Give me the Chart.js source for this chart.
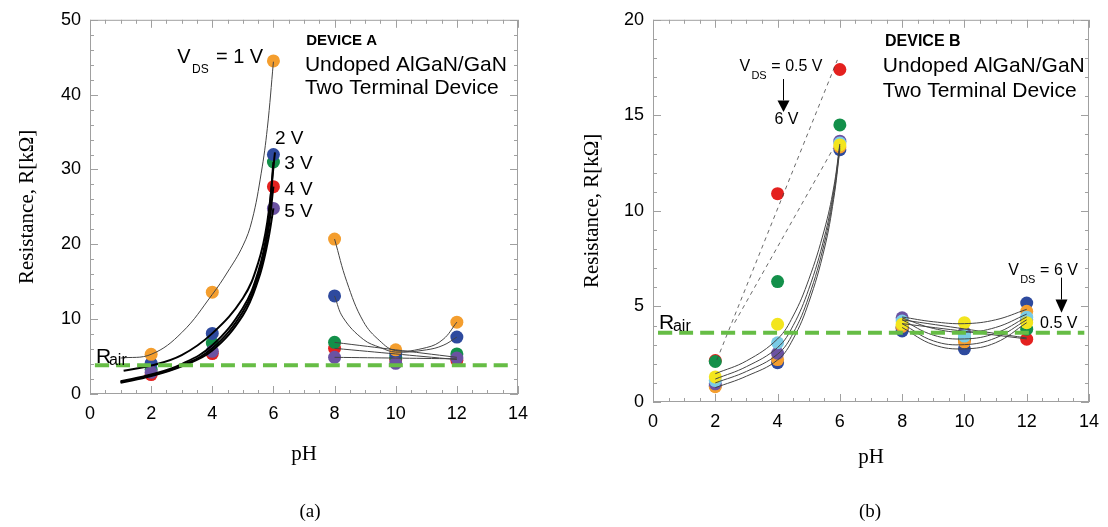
<!DOCTYPE html>
<html>
<head>
<meta charset="utf-8">
<script src="https://cdn.jsdelivr.net/npm/chart.js@4"></script>
<style>
  body { margin: 0; background: #fff; width: 1108px; height: 527px; position: relative; overflow: hidden; }
  .panel { position: absolute; top: 0; height: 527px; }
  #wrapA { left: 0; width: 555px; }
  #wrapB { left: 555px; width: 553px; }
  .cap { position: absolute; top: 500px; width: 40px; text-align: center; font: 19px "Liberation Serif", serif; }
</style>
</head>
<body>
<div class="panel" id="wrapA"><canvas id="chartA"></canvas></div>
<div class="panel" id="wrapB"><canvas id="chartB"></canvas></div>
<div class="cap" style="left:290px">(a)</div>
<div class="cap" style="left:850px">(b)</div>

<script>
// pH values where resistance was measured
const pH = [2, 4, 6, 8, 10, 12];

// Device A, resistance in kOhm per V_DS
const rA_1V = [5.3, 13.6, 44.5, 20.7, 5.9, 9.6];
const rA_2V = [4.1, 8.1, 32.0, 13.1, 5.4, 7.6];
const rA_3V = [3.3, 6.8, 31.0, 6.9, 4.9, 5.35];
const rA_4V = [2.6, 5.4, 27.7, 6.1, 4.6, 4.5];
const rA_5V = [2.9, 5.7, 24.8, 4.9, 4.1, 4.8];

// Device B, resistance in kOhm per V_DS
const rB_05V = [2.17, 10.9, 17.4, 3.85, 3.25, 3.29];
const rB_1V = [2.12, 6.3, 14.5, 3.9, 3.3, 3.81];
const rB_2V = [1.31, 4.07, 13.45, 4.07, 4.15, 4.15];
const rB_3V = [1.12, 3.1, 13.55, 4.24, 3.45, 4.44];
const rB_4V = [0.95, 2.55, 13.65, 4.41, 3.65, 4.3];
const rB_5V = [0.8, 2.22, 13.35, 3.95, 3.15, 4.75];
const rB_6V = [0.85, 2.06, 13.2, 3.72, 2.78, 5.18];

// fitted curves
const fitA_x1 = [1.0, 2, 3, 4, 4.5, 5, 5.3, 5.6, 5.8, 6];
const fitA_1V = [4.8, 5.3, 8.2, 13.3, 16.3, 19.8, 23.2, 29.5, 35.5, 44.4];
const fitA_x2 = [1.1, 2, 3, 4, 5, 5.5, 5.8, 6.05];
const fitA_2V = [3.1, 3.8, 5.2, 8.1, 12.8, 17.5, 23.0, 32.3];
const fitA_x3 = [1.0, 2, 3, 4, 5, 5.5, 5.8, 6];
const fitA_3V = [1.7, 2.6, 4.0, 6.5, 11.5, 16.3, 22.0, 31.0];
const fitA_4V = [1.6, 2.5, 3.8, 6.1, 11.0, 15.8, 21.0, 27.7];
const fitA_5V = [1.5, 2.4, 3.7, 5.8, 10.5, 15.2, 20.0, 24.8];
const fitA_xU1 = [8, 8.4, 8.94, 9.48, 10, 11, 11.55, 12];
const fitA_U1 = [20.7, 15.0, 9.7, 7.1, 5.8, 6.2, 7.3, 9.6];
const fitA_xU2 = [8, 8.28, 8.94, 9.5, 10, 11, 11.55, 12];
const fitA_U2 = [13.1, 10.2, 7.3, 6.2, 5.6, 5.9, 6.5, 7.6];
const fitA_xS = [8, 12];
const fitA_S3 = [6.9, 4.9];
const fitA_S4 = [6.1, 4.6];
const fitA_S5 = [4.9, 4.7];

const fitB_x = [2, 3, 4, 4.5, 5, 5.5, 5.8, 6];
const fitB_1 = [1.48, 2.15, 3.3, 4.5, 6.4, 9.0, 11.2, 13.5];
const fitB_2 = [1.2, 1.85, 2.85, 4.0, 5.9, 8.6, 11.0, 13.4];
const fitB_3 = [1.0, 1.6, 2.5, 3.6, 5.5, 8.3, 10.8, 13.3];
const fitB_4 = [0.75, 1.35, 2.2, 3.3, 5.2, 8.0, 10.6, 13.2];
const dashB_x1 = [2.05, 5.92];
const dashB_1 = [2.2, 17.9];
const dashB_x2 = [2.62, 5.8];
const dashB_2 = [4.15, 13.3];
const fitB_xU = [8, 9, 10, 11, 12];
const fitB_U1 = [4.45, 4.2, 4.1, 4.3, 4.85];
const fitB_U2 = [4.4, 3.85, 3.65, 3.9, 4.6];
const fitB_U3 = [4.3, 3.5, 3.3, 3.6, 4.45];
const fitB_U4 = [4.1, 3.2, 3.0, 3.35, 4.3];
const fitB_U5 = [3.9, 3.0, 2.78, 3.1, 4.15];
const fitB_xS = [8, 12];
const fitB_S1 = [4.3, 3.35];
const fitB_S2 = [4.1, 3.3];

// resistance in air
const airA_x = [0.16, 13.8];
const airA = [3.85, 3.85];
const airB_x = [0.16, 13.85];
const airB = [3.62, 3.62];

const COL = {
  orange: '#F49E2E', blue: '#2E4A9E', green: '#13904A', red: '#E4211F',
  purple: '#6B52A2', yellow: '#F3E51E', cyan: '#7ACBE6', air: '#66BD45'
};

Chart.defaults.font.family = '"Liberation Sans", Arial, sans-serif';
Chart.defaults.color = '#000';

const pts = (xs, ys) => xs.map((x, i) => ({ x: x, y: ys[i] }));

function dots(ys, color, order) {
  return { data: pts(pH, ys), backgroundColor: color, borderWidth: 0,
           pointRadius: 6.5, pointHoverRadius: 6.5, showLine: false, order: order };
}
function curve(xs, ys, width, color, dash) {
  return { data: pts(xs, ys), showLine: true, borderColor: color, borderWidth: width,
           pointRadius: 0, tension: 0.4, borderDash: dash || [], order: 0 };
}

// frame with inward ticks on all four sides
function frameTicks(yMinor, yMajor) {
  return {
    id: 'frameTicks',
    beforeDatasetsDraw(chart) {
      const { ctx, chartArea: a, scales: { x, y } } = chart;
      ctx.save();
      ctx.strokeStyle = '#a0a0a0';
      ctx.lineWidth = 1;
      ctx.strokeRect(a.left + 0.5, a.top + 0.5, a.right - a.left - 1, a.bottom - a.top - 1);
      ctx.beginPath();
      for (let v = x.min; v <= x.max + 1e-6; v += 0.5) {
        const px = Math.round(x.getPixelForValue(v)) + 0.5;
        const len = Math.abs(v % 2) < 1e-6 ? 8 : 4;
        ctx.moveTo(px, a.bottom); ctx.lineTo(px, a.bottom - len);
        ctx.moveTo(px, a.top); ctx.lineTo(px, a.top + len);
      }
      for (let v = y.min; v <= y.max + 1e-6; v += yMinor) {
        const py = Math.round(y.getPixelForValue(v)) + 0.5;
        const len = Math.abs(v % yMajor) < 1e-6 ? 8 : 4;
        ctx.moveTo(a.left, py); ctx.lineTo(a.left + len, py);
        ctx.moveTo(a.right, py); ctx.lineTo(a.right - len, py);
      }
      ctx.stroke();
      ctx.restore();
    }
  };
}

function text(chart, s, x, y, size, bold, base) {
  const { ctx, scales } = chart;
  ctx.font = (bold ? 'bold ' : '') + size + 'px "Liberation Sans", Arial, sans-serif';
  ctx.fillStyle = '#000';
  ctx.textAlign = 'left';
  ctx.textBaseline = base || 'alphabetic';
  ctx.fillText(s, scales.x.getPixelForValue(x), scales.y.getPixelForValue(y));
}

function arrow(chart, x, y0, y1, tip) {
  const { ctx, scales } = chart;
  const px = Math.round(scales.x.getPixelForValue(x)) + 0.5;
  const p0 = scales.y.getPixelForValue(y0), p1 = scales.y.getPixelForValue(y1), pt = scales.y.getPixelForValue(tip);
  ctx.save();
  ctx.strokeStyle = '#000'; ctx.lineWidth = 1;
  ctx.beginPath(); ctx.moveTo(px, p0); ctx.lineTo(px, p1); ctx.stroke();
  ctx.fillStyle = '#000';
  ctx.beginPath(); ctx.moveTo(px - 6, p1); ctx.lineTo(px + 6, p1); ctx.lineTo(px, pt); ctx.closePath(); ctx.fill();
  ctx.restore();
}

const notesA = {
  id: 'notesA',
  afterDraw(chart) {
    text(chart, 'DEVICE A', 7.07, 47.2, 15, true, 'middle');
    text(chart, 'Undoped AlGaN/GaN', 7.03, 43.95, 21, false, 'middle');
    text(chart, 'Two Terminal Device', 7.03, 40.8, 21, false, 'middle');
    text(chart, 'V', 2.85, 44.2, 20);
    text(chart, 'DS', 3.34, 42.85, 12);
    text(chart, '= 1 V', 4.12, 44.2, 20);
    text(chart, '2 V', 6.05, 33.4, 19);
    text(chart, '3 V', 6.35, 30.0, 19);
    text(chart, '4 V', 6.35, 26.6, 19);
    text(chart, '5 V', 6.35, 23.6, 19);
    text(chart, 'R', 0.2, 4.08, 21);
    text(chart, 'air', 0.62, 3.82, 16);
  }
};

const notesB = {
  id: 'notesB',
  afterDraw(chart) {
    text(chart, 'DEVICE B', 7.45, 18.88, 16, true, 'middle');
    text(chart, 'Undoped AlGaN/GaN', 7.38, 17.57, 21, false, 'middle');
    text(chart, 'Two Terminal Device', 7.38, 16.28, 21, false, 'middle');
    text(chart, 'V', 2.78, 17.33, 16);
    text(chart, 'DS', 3.16, 16.9, 11);
    text(chart, '= 0.5 V', 3.8, 17.33, 16);
    arrow(chart, 4.19, 16.9, 15.78, 15.18);
    text(chart, '6 V', 3.9, 14.57, 16);
    text(chart, 'V', 11.41, 6.65, 16);
    text(chart, 'DS', 11.79, 6.22, 11);
    text(chart, '= 6 V', 12.43, 6.65, 16);
    arrow(chart, 13.09, 6.51, 5.36, 4.67);
    text(chart, '0.5 V', 12.43, 3.89, 16);
    text(chart, 'R', 0.19, 3.81, 21);
    text(chart, 'air', 0.64, 3.72, 16);
  }
};

function scales(yMax, yStep, yWidth, xHeight, yTitlePad) {
  return {
    x: {
      type: 'linear', min: 0, max: 14,
      ticks: { stepSize: 2, padding: 9, font: { size: 18 }, color: '#000' },
      grid: { display: false, drawTicks: false }, border: { display: false },
      title: { display: true, text: 'pH', color: '#000', padding: { top: 0, bottom: 0 },
               font: { family: '"Liberation Serif", serif', size: 21 } },
      afterFit: s => { s.height = xHeight; }
    },
    y: {
      min: 0, max: yMax,
      ticks: { stepSize: yStep, padding: 9, font: { size: 18 }, color: '#000' },
      grid: { display: false, drawTicks: false }, border: { display: false },
      title: { display: true, text: 'Resistance, R[k\u03A9]', color: '#000', padding: { top: yTitlePad, bottom: 0 },
               font: { family: '"Liberation Serif", serif', size: 21 } },
      afterFit: s => { s.width = yWidth; }
    }
  };
}

const common = {
  responsive: true, maintainAspectRatio: false, animation: false, events: [],
  plugins: { legend: { display: false }, tooltip: { enabled: false } }
};

new Chart(document.getElementById('chartA'), {
  type: 'scatter',
  data: {
    datasets: [
      curve(airA_x, airA, 4, COL.air, [14, 7]),
      curve(fitA_x1, fitA_1V, 1, '#444'),
      curve(fitA_x2, fitA_2V, 2, '#000'),
      curve(fitA_x3, fitA_3V, 2, '#000'),
      curve(fitA_x3, fitA_4V, 2, '#000'),
      curve(fitA_x3, fitA_5V, 2, '#000'),
      curve(fitA_xU1, fitA_U1, 1, '#444'),
      curve(fitA_xU2, fitA_U2, 1, '#444'),
      curve(fitA_xS, fitA_S3, 1, '#444'),
      curve(fitA_xS, fitA_S4, 1, '#444'),
      curve(fitA_xS, fitA_S5, 1, '#444'),
      dots(rA_5V, COL.purple, 1),
      dots(rA_1V, COL.orange, 2),
      dots(rA_2V, COL.blue, 3),
      dots(rA_3V, COL.green, 4),
      dots(rA_4V, COL.red, 5)
    ]
  },
  options: Object.assign({}, common, {
    layout: { padding: { left: 0, right: 37, top: 14, bottom: 60 } },
    scales: scales(50, 10, 90, 73, 15)
  }),
  plugins: [frameTicks(2, 10), notesA]
});

new Chart(document.getElementById('chartB'), {
  type: 'scatter',
  data: {
    datasets: [
      curve(airB_x, airB, 4, COL.air, [14, 7]),
      curve(dashB_x1, dashB_1, 0.8, '#444', [4, 4]),
      curve(dashB_x2, dashB_2, 0.8, '#444', [4, 4]),
      curve(fitB_x, fitB_1, 1, '#444'),
      curve(fitB_x, fitB_2, 1, '#444'),
      curve(fitB_x, fitB_3, 1, '#444'),
      curve(fitB_x, fitB_4, 1, '#444'),
      curve(fitB_xU, fitB_U1, 1, '#444'),
      curve(fitB_xU, fitB_U2, 1, '#444'),
      curve(fitB_xU, fitB_U3, 1, '#444'),
      curve(fitB_xU, fitB_U4, 1, '#444'),
      curve(fitB_xU, fitB_U5, 1, '#444'),
      curve(fitB_xS, fitB_S1, 1, '#444'),
      curve(fitB_xS, fitB_S2, 1, '#444'),
      dots(rB_2V, COL.yellow, 1),
      dots(rB_3V, COL.cyan, 2),
      dots(rB_4V, COL.purple, 3),
      dots(rB_5V, COL.orange, 4),
      dots(rB_6V, COL.blue, 5),
      dots(rB_1V, COL.green, 6),
      dots(rB_05V, COL.red, 7)
    ]
  },
  options: Object.assign({}, common, {
    layout: { padding: { left: 0, right: 17, top: 15, bottom: 57 } },
    scales: scales(20, 5, 98, 68, 25)
  }),
  plugins: [frameTicks(1, 5), notesB]
});
</script>
</body>
</html>
